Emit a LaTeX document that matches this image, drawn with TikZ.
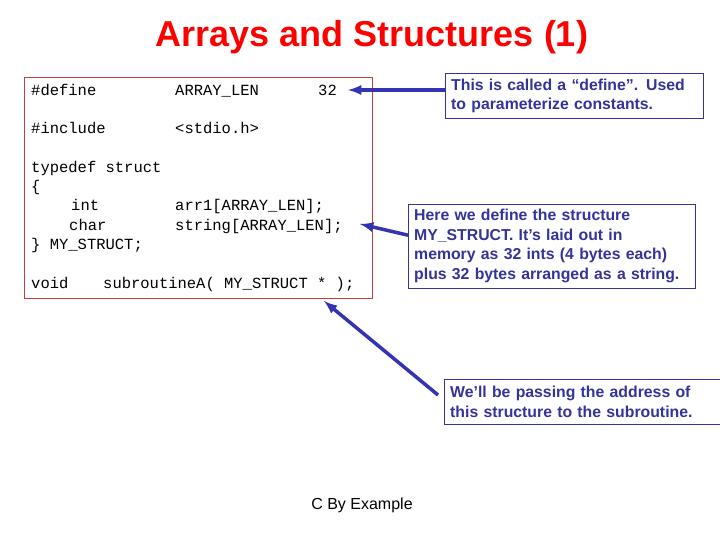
\documentclass[tikz,border=0pt]{standalone}
\usepackage{fontspec}
\setmainfont{Liberation Sans}
\newfontfamily\codefont{Liberation Mono}
\usetikzlibrary{positioning}
\definecolor{boxred}{RGB}{200,60,60}
\definecolor{noteblue}{RGB}{51,51,153}
\definecolor{arrowblue}{RGB}{51,51,180}
\tikzset{
    codenode/.style = {anchor=base west, inner sep=0pt, font=\codefont\fontsize{15.5}{17}\selectfont},
    notenode/.style = {draw=noteblue, text=noteblue, anchor=north west, align=left, inner xsep=6pt,
      inner ysep=3pt, font=\bfseries\fontsize{15.8}{19.5}\selectfont},
    pointer/.style = {arrowblue, line width=3.5pt, -latex}
}
\begin{document}
\begin{tikzpicture}[x=1pt, y=-1pt]
    \useasboundingbox (0,0) rectangle (720,540);

    \node [name=title, text=red, font=\bfseries\fontsize{36}{40}\selectfont] at (372,37) {Arrays and Structures (1)};

    % code listing
    \draw [boxred, line width=1pt] (24,78) rectangle (372,298);
    \node [name=def, codenode] at (31,96) {\#define};
    \node [name=deflen, codenode] at (175,96) {ARRAY\_LEN};
    \node [name=defval, codenode] at (318,96) {32};
    \node [name=inc, codenode] at (31,134) {\#include};
    \node [name=incfile, codenode] at (175,134) {<stdio.h>};
    \node [name=tdef, codenode] at (31,173) {typedef struct};
    \node [name=lbrace, codenode] at (31,192) {\{};
    \node [name=tint, codenode] at (71,211) {int};
    \node [name=arr, codenode] at (175,211) {arr1[ARRAY\_LEN];};
    \node [name=tchar, codenode] at (69,230) {char};
    \node [name=str, codenode] at (175,230) {string[ARRAY\_LEN];};
    \node [name=rbrace, codenode] at (31,249) {\} MY\_STRUCT;};
    \node [name=tvoid, codenode] at (31,288) {void};
    \node [name=sub, codenode] at (103,288) {subroutineA( MY\_STRUCT * );};

    % notes
    \node [name=note1, notenode, text width=246pt, minimum height=45pt] at (445,73) {This is called a “define”.  Used\\to parameterize constants.};
    \node [name=note2, notenode, text width=275pt, minimum height=84pt] at (408,204) {Here we define the structure\\MY\_STRUCT.  It’s laid out in\\memory as 32 ints (4 bytes each)\\plus 32 bytes arranged as a string.};
    \node [name=note3, notenode, text width=264pt, minimum height=45pt] at (444,379) {We’ll be passing the address of\\this structure to the subroutine.};

    \coordinate (tip1) at (348,90);
    \coordinate (tip2) at (360,224);
    \coordinate (tip3) at (324,301);
    \draw [pointer] (note1.west |- tip1) -- (tip1);
    \draw [pointer] (note2.west) ++(0,-11) -- (tip2);
    \draw [pointer] (note3.north west) ++(-6,16) -- (tip3);

    \node [name=footer, font=\fontsize{16}{19}\selectfont] at (362,505) {C By Example};
\end{tikzpicture}
\end{document}
